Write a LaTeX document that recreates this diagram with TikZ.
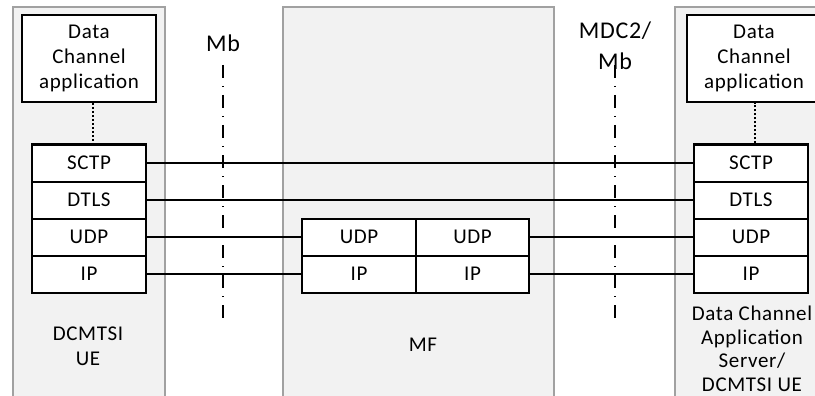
\documentclass[tikz,border=0pt]{standalone}
\usepackage{fontspec}
\setmainfont{Carlito}[LetterSpace=3]

\tikzstyle{zone}=[draw=black!37,fill=black!5,line width=1.8pt]
\tikzstyle{layer}=[draw=black,fill=white,line width=2pt,minimum width=114pt,minimum height=37pt,inner sep=0pt]
\tikzstyle{app}=[draw=black,fill=white,line width=2pt,minimum width=134pt,minimum height=87pt,inner sep=0pt,align=center]
\tikzstyle{link}=[draw=black,line width=1.8pt]
\tikzstyle{refline}=[draw=black,line width=1.8pt,dash pattern=on 13pt off 8pt on 1pt off 8pt]
\tikzstyle{label}=[align=center,font=\fontsize{21}{25}\selectfont]

\begin{document}
\begin{tikzpicture}[x=1pt,y=-1pt,font=\fontsize{21}{25}\selectfont]

   \clip (0,0) rectangle (815,396);
   \fill[white] (0,0) rectangle (815,396);

   % the three entities
   \filldraw[zone] (13,7) rectangle (165,410);
   \filldraw[zone] (283,7) rectangle (554,410);
   \filldraw[zone] (675,7) rectangle (830,410);

   % UE side
   \node[app] (appl) at (89,58.5) {Data\\Channel\\application};
   \node[layer] (sctpl) at (89,163) {SCTP};
   \node[layer] (dtlsl) at (89,200) {DTLS};
   \node[layer] (udpl) at (89,237) {UDP};
   \node[layer] (ipl) at (89,274) {IP};
   \node[label] (uel) at (88,346) {DCMTSI\\UE};

   % MF
   \node[layer,minimum width=114pt] (udpm1) at (359,237) {UDP};
   \node[layer,minimum width=113pt] (udpm2) at (472.5,237) {UDP};
   \node[layer,minimum width=114pt] (ipm1) at (359,274) {IP};
   \node[layer,minimum width=113pt] (ipm2) at (472.5,274) {IP};
   \node[label] (mf) at (423,345) {MF};

   % application server side
   \node[app] (appr) at (754,58.5) {Data\\Channel\\application};
   \node[layer] (sctpr) at (751,163) {SCTP};
   \node[layer] (dtlsr) at (751,200) {DTLS};
   \node[layer] (udpr) at (751,237) {UDP};
   \node[layer] (ipr) at (751,274) {IP};
   \node[label,font=\fontsize{21}{23.5}\selectfont] (asr) at (752,349)
{Data Channel\\Application\\Server/\\DCMTSI UE};

   % reference points
   \node[font=\fontsize{24}{30}\selectfont] (mb) at (223,43) {Mb};
   \node[align=center,font=\fontsize{24}{31}\selectfont] (mdc) at (615,46) {MDC2/\\Mb};
   \coordinate (mbtop) at (223,65);
   \coordinate (mbbot) at (223,318);
   \coordinate (mdctop) at (615,65);
   \coordinate (mdcbot) at (615,318);
   \draw[refline] (mbtop) -- (mbbot);
   \draw[refline] (mdctop) -- (mdcbot);

   \draw[link,dash pattern=on 2pt off 2pt] ([xshift=4pt]appl.south) -- ([xshift=4pt]sctpl.north);
   \draw[link,dash pattern=on 2pt off 2pt] ([xshift=4pt]sctpr.north) -- ([xshift=4pt]sctpr.north |- appr.south);

   \draw[link] (sctpl) -- (sctpr);
   \draw[link] (dtlsl) -- (dtlsr);
   \draw[link] (udpl) -- (udpm1);
   \draw[link] (udpm2) -- (udpr);
   \draw[link] (ipl) -- (ipm1);
   \draw[link] (ipm2) -- (ipr);
\end{tikzpicture}
\end{document}
